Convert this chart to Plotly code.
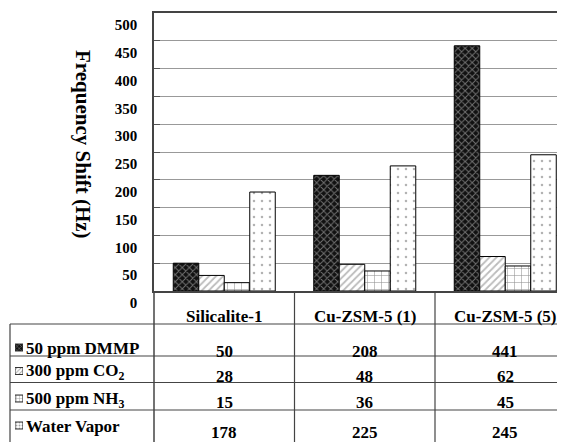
import plotly.graph_objects as go

categories = ["Silicalite-1", "Cu-ZSM-5 (1)", "Cu-ZSM-5 (5)"]
series_names = ["50 ppm DMMP", "300 ppm CO<sub>2</sub>", "500 ppm NH<sub>3</sub>", "Water Vapor"]
dmmp = [50, 208, 441]
co2 = [28, 48, 62]
nh3 = [15, 36, 45]
water = [178, 225, 245]
y_ticks = [0, 50, 100, 150, 200, 250, 300, 350, 400, 450, 500]
y_title = "Frequency Shift (Hz)"

series_values = [dmmp, co2, nh3, water]

# page body has an 8px margin; the figure fills the rest of the 565x442 window
OFF = 8
W, H = 565 - OFF, 442 - OFF
FONT = "Liberation Serif, serif"

def px(x):
    return (x - OFF) / W

def py(y):
    return (442 - y) / H

patterns = [
    dict(shape="x", bgcolor="#111111", fgcolor="#d0d0d0", size=5, solidity=0.35),
    dict(shape="/", bgcolor="white", fgcolor="#777777", size=5, solidity=0.35),
    dict(shape="+", bgcolor="white", fgcolor="#222222", size=7, solidity=0.15),
    dict(shape=".", bgcolor="white", fgcolor="#666666", size=8, solidity=0.08),
]

fig = go.Figure()
for name, vals, pat in zip(series_names, series_values, patterns):
    fig.add_trace(go.Bar(
        x=list(range(len(categories))), y=vals, name=name,
        marker=dict(color=pat["bgcolor"], line=dict(color="black", width=1), pattern=pat),
        showlegend=False, xaxis="x", yaxis="y",
    ))

# legend keys inside the table (tiny patterned boxes)
row_centers = [347.5, 371, 398.5, 425.5]
fig.add_trace(go.Bar(
    x=[1, 1, 1, 1], y=[-c for c in row_centers], orientation="h", width=7,
    marker=dict(color=[p["bgcolor"] for p in patterns], line=dict(color="#333", width=1),
                pattern=dict(shape=[p["shape"] for p in patterns],
                             bgcolor=[p["bgcolor"] for p in patterns],
                             fgcolor=[p["fgcolor"] for p in patterns],
                             size=3, solidity=0.3)),
    showlegend=False, xaxis="x2", yaxis="y2", hoverinfo="skip",
))

cat_w = 140.5
plot_l, plot_r = 154, 565
plot_t, plot_b = 13, 291

fig.update_layout(
    width=W, height=H,
    margin=dict(l=0, r=0, t=0, b=0, autoexpand=False),
    paper_bgcolor="white", plot_bgcolor="white",
    barmode="group", bargap=0.274, bargroupgap=0,
    font=dict(family=FONT, color="black"),
    xaxis=dict(domain=[px(plot_l), 1], range=[-0.5, -0.5 + (plot_r - plot_l) / cat_w],
               showticklabels=False, showgrid=False, zeroline=False, automargin=False,
               showline=True, linecolor="#444", linewidth=1.5, mirror=True, ticks=""),
    yaxis=dict(domain=[py(plot_b), py(plot_t)], range=[0, 500], tickvals=y_ticks,
               ticktext=["<b>%d</b>" % t for t in y_ticks],
               showgrid=True, gridcolor="#999999", gridwidth=1, zeroline=False,
               showline=True, linecolor="#444", linewidth=1.5, automargin=False,
               ticks="inside", ticklen=6, tickcolor="#555",
               tickfont=dict(family=FONT, size=15, color="black"),
               ticklabelshift=12, ticklabelstandoff=12),
    xaxis2=dict(domain=[px(15), px(23)], range=[0, 1], visible=False, fixedrange=True),
    yaxis2=dict(domain=[py(432), py(340)], range=[-432, -340], visible=False, fixedrange=True),
)

# y-axis title, reading top to bottom
fig.add_annotation(text="<b>%s</b>" % y_title, textangle=90, x=px(83), y=py(144),
                   xref="paper", yref="paper", xanchor="center", yanchor="middle",
                   showarrow=False, font=dict(family=FONT, size=21, color="black"))

# table grid lines
line_col = "#444"
col_edges = [plot_l + cat_w, plot_l + 2 * cat_w]
shapes = []
shapes.append(dict(type="line", xref="paper", yref="paper", x0=px(plot_l), x1=px(plot_l),
                   y0=py(plot_b), y1=0, line=dict(color=line_col, width=1.5)))
for cx in col_edges:
    shapes.append(dict(type="line", xref="paper", yref="paper", x0=px(cx), x1=px(cx),
                       y0=py(plot_b), y1=0, line=dict(color=line_col, width=1.2)))
shapes.append(dict(type="line", xref="paper", yref="paper", x0=px(10), x1=px(10),
                   y0=py(324), y1=0, line=dict(color=line_col, width=1.2)))
for ry in [324, 356, 382.5, 410]:
    shapes.append(dict(type="line", xref="paper", yref="paper", x0=px(10), x1=1,
                       y0=py(ry), y1=py(ry), line=dict(color=line_col, width=1.2)))
fig.update_layout(shapes=shapes)

# table text
col_centers = [plot_l + cat_w * (i + 0.5) for i in range(len(categories))]
tfont = dict(family=FONT, size=17, color="black")
for cx, cat in zip(col_centers, categories):
    fig.add_annotation(text="<b>%s</b>" % cat, x=px(cx), y=py(316), xref="paper", yref="paper",
                       xanchor="center", yanchor="middle", showarrow=False, font=tfont)

label_y = [348, 372, 400, 426]
value_y = [351, 376, 402, 432]
for name, vals, ly, vy in zip(series_names, series_values, label_y, value_y):
    fig.add_annotation(text="<b>%s</b>" % name, x=px(24), y=py(ly), xref="paper", yref="paper",
                       xanchor="left", yanchor="middle", showarrow=False, font=tfont)
    for cx, v in zip(col_centers, vals):
        fig.add_annotation(text="<b>%d</b>" % v, x=px(cx), y=py(vy), xref="paper", yref="paper",
                           xanchor="center", yanchor="middle", showarrow=False, font=tfont)

fig.write_html("out.html")
